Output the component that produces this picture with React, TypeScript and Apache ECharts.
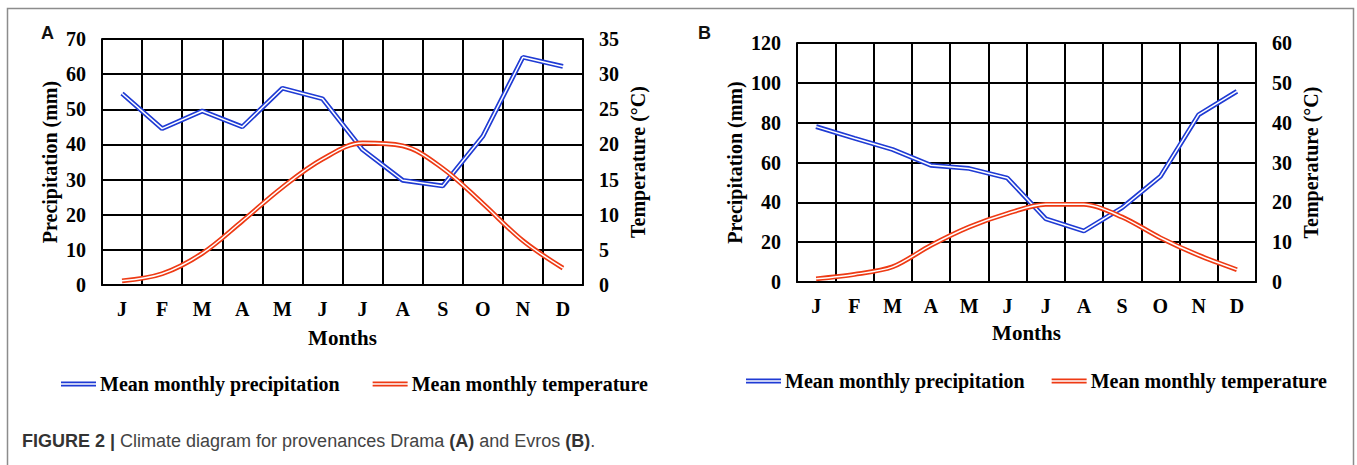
import React, { useEffect, useRef } from "react";
import * as echarts from "echarts";

const months = ["J", "F", "M", "A", "M", "J", "J", "A", "S", "O", "N", "D"];
const precipA = [54.5, 44.5, 49.5, 45, 56, 53, 38.5, 29.8, 28.2, 42.3, 64.8, 62.2];
const tempA = [0.6, 1.6, 4.5, 9.1, 13.9, 17.9, 20.2, 19.8, 16.6, 11.6, 6.3, 2.4];
const precipB = [78, 72.2, 66.5, 58.6, 57, 52.2, 31.8, 25.6, 37.3, 53, 84, 95.7];
const tempB = [0.8, 1.9, 3.8, 9.2, 13.8, 17.2, 19.5, 19.5, 16.3, 11.1, 6.7, 3.1];

const precipName = "Mean monthly precipitation";
const tempName = "Mean monthly temperature";
const xName = "Months";
const leftName = "Precipitation (mm)";
const rightName = "Temperature (°C)";
const panelLabels = ["A", "B"];
const captionBold = "FIGURE 2 |";
const captionText = " Climate diagram for provenances Drama ";

const SERIF = "'Liberation Serif', 'Times New Roman', serif";
const SANS = "'Liberation Sans', Arial, sans-serif";
const BLUE = "#1f3bd4";
const RED = "#ee3a14";

function yAxis(gridIndex: number, pos: "left" | "right", max: number, interval: number, name: string, gap: number, split: boolean) {
  return {
    type: "value",
    gridIndex,
    position: pos,
    min: 0,
    max,
    interval,
    name,
    nameLocation: "middle",
    nameGap: gap,
    nameRotate: 90,
    nameTextStyle: { fontFamily: SERIF, fontWeight: "bold", fontSize: 20, color: "#000" },
    axisLine: { show: true, lineStyle: { color: "#000", width: 2 } },
    axisTick: { show: false },
    axisLabel: { fontFamily: SERIF, fontWeight: "bold", fontSize: 20, color: "#000", margin: 16 },
    splitLine: { show: split, lineStyle: { color: "#000", width: 2 } },
  };
}

function xAxis(gridIndex: number, gap: number) {
  return {
    type: "category",
    gridIndex,
    data: months,
    boundaryGap: true,
    name: xName,
    nameLocation: "middle",
    nameGap: gap,
    nameTextStyle: { fontFamily: SERIF, fontWeight: "bold", fontSize: 21, color: "#000" },
    axisLine: { show: true, lineStyle: { color: "#000", width: 2 } },
    axisTick: { show: false },
    axisLabel: { interval: 0, fontFamily: SERIF, fontWeight: "bold", fontSize: 20, color: "#000", margin: 14 },
    splitLine: { show: true, interval: 0, lineStyle: { color: "#000", width: 2 } },
  };
}

function doubleLine(name: string, data: number[], color: string, xi: number, yi: number, smooth: number | boolean) {
  return [
    {
      type: "line",
      name,
      data,
      xAxisIndex: xi,
      yAxisIndex: yi,
      color,
      smooth,
      showSymbol: false,
      symbol: "none",
      lineStyle: { color, width: 4.8 },
      z: 3,
    },
    {
      type: "line",
      name: name + " inner " + xi,
      data,
      xAxisIndex: xi,
      yAxisIndex: yi,
      smooth,
      showSymbol: false,
      symbol: "none",
      lineStyle: { color: "#ffffff", width: 1.5 },
      z: 3,
    },
  ];
}

const legendIcon = "path://M0,0H35V1.8H0Z M0,3.4H35V5.2H0Z";

function legend(left: number, top: number, gap: number) {
  return {
    left,
    top,
    orient: "horizontal",
    padding: 0,
    itemGap: gap,
    itemWidth: 35,
    itemHeight: 5.2,
    icon: legendIcon,
    symbolKeepAspect: false,
    selectedMode: false,
    data: [precipName, tempName],
    itemStyle: { borderWidth: 0 },
    lineStyle: { width: 0 },
    textStyle: { fontFamily: SERIF, fontWeight: "bold", fontSize: 20, color: "#000", padding: [0, 0, 0, -1] },
  };
}

export default function App() {
  const ref = useRef<HTMLDivElement>(null);
  useEffect(() => {
    if (!ref.current) return;
    const chart = echarts.init(ref.current, undefined, { renderer: "svg" });
    const option: any = {
      animation: false,
      backgroundColor: "#ffffff",
      grid: [
        { left: 102, top: 39, width: 481, height: 246 },
        { left: 797, top: 43, width: 459, height: 239 },
      ],
      xAxis: [xAxis(0, 42), xAxis(1, 40)],
      yAxis: [
        yAxis(0, "left", 70, 10, leftName, 42, true),
        yAxis(0, "right", 35, 5, rightName, 45, false),
        yAxis(1, "left", 120, 20, leftName, 52, true),
        yAxis(1, "right", 60, 10, rightName, 45, false),
      ],
      legend: [legend(61, 374, 33), legend(746, 371, 27)],
      series: [
        ...doubleLine(precipName, precipA, BLUE, 0, 0, false),
        ...doubleLine(tempName, tempA, RED, 0, 1, 0.35),
        ...doubleLine(precipName, precipB, BLUE, 1, 2, false),
        ...doubleLine(tempName, tempB, RED, 1, 3, 0.3),
      ],
      graphic: [
        {
          type: "polyline",
          shape: { points: [[7.5, 465], [7.5, 8.5], [1353.5, 8.5], [1353.5, 465]] },
          style: { stroke: "#8c8c8c", lineWidth: 1.5, fill: "none" },
          silent: true,
        },
        {
          type: "text",
          left: 41,
          top: 24,
          style: { text: panelLabels[0], fontFamily: SANS, fontWeight: "bold", fontSize: 18, fill: "#111" },
        },
        {
          type: "text",
          left: 698,
          top: 24,
          style: { text: panelLabels[1], fontFamily: SANS, fontWeight: "bold", fontSize: 18, fill: "#111" },
        },
        {
          type: "text",
          left: 22,
          top: 432,
          style: {
            text: "{b|" + captionBold + "}{n|" + captionText + "}{b|(A)}{n| and Evros }{b|(B)}{n|.}",
            rich: {
              b: { fontFamily: SANS, fontWeight: "bold", fontSize: 18, fill: "#333" },
              n: { fontFamily: SANS, fontSize: 18, fill: "#444" },
            },
          },
        },
      ],
    };
    chart.setOption(option);
    return () => chart.dispose();
  }, []);
  return (
    <div
      ref={ref}
      style={{ position: "absolute", left: 0, top: 0, width: 1357, height: 465, background: "#fff" }}
    />
  );
}
